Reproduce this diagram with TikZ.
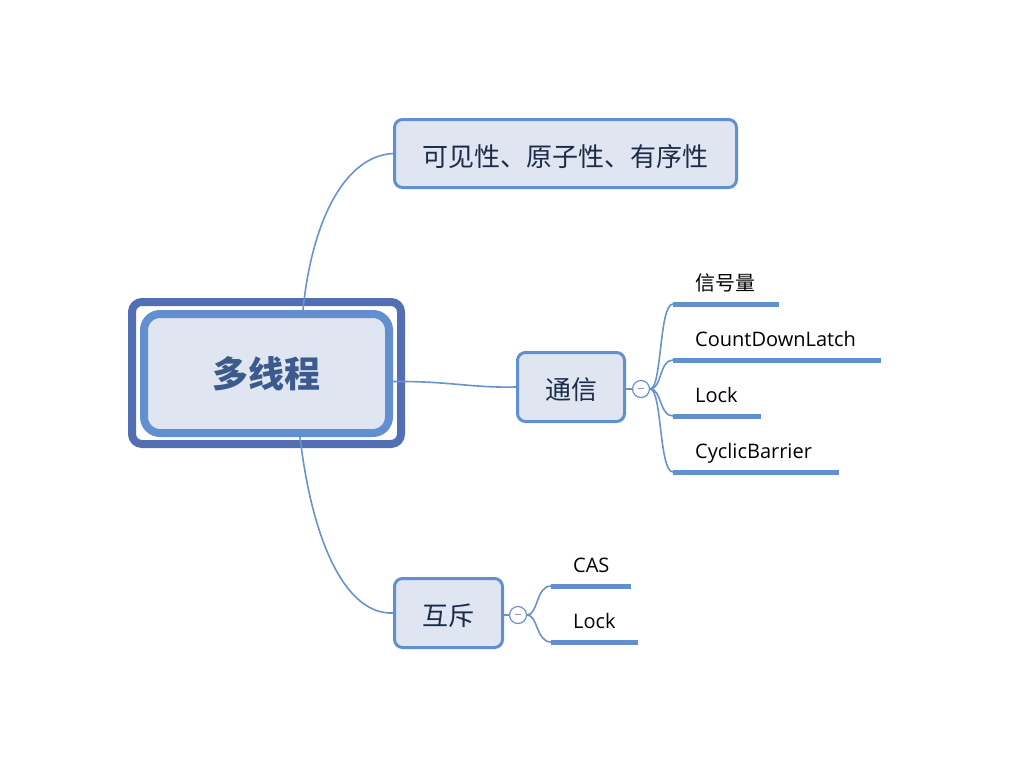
\documentclass[tikz,border=0pt]{standalone}
\usepackage{fontspec}
\setmainfont{Open Sans}
\newfontfamily\cjk{Noto Sans CJK SC}
\definecolor{frame}{RGB}{82,111,180}
\definecolor{edge}{RGB}{97,143,207}
\definecolor{wire}{RGB}{106,146,204}
\definecolor{boxfill}{RGB}{223,230,241}
\definecolor{ink}{RGB}{28,43,72}
\definecolor{title}{RGB}{60,90,140}
\definecolor{minus}{RGB}{140,130,170}

\begin{document}
\begin{tikzpicture}[x=1pt,y=-1pt,
  box/.style={draw=edge,fill=boxfill,rounded corners=8pt,line width=3pt,text=ink,text height=25pt,text depth=0pt,font=\cjk\fontsize{26}{26}\selectfont},
  conn/.style={draw=wire,line width=1.6pt},
  bar/.style={draw=edge,line width=5pt},
  sub/.style={anchor=base west,inner sep=0pt,font=\fontsize{20}{20}\selectfont},
  fold/.style={draw=wire,circle,fill=white,line width=1.2pt,minimum size=17pt,inner sep=0pt,text=minus,text height=8pt,text depth=0pt,font=\fontsize{13}{13}\selectfont}]
\useasboundingbox (0,0) rectangle (1014,766);
% central topic
\node[draw=frame,line width=8pt,rounded corners=10pt,minimum width=269pt,minimum height=142pt] (m0) at (266.5,373) {};
\node[box,line width=8pt,rounded corners=16pt,minimum width=245pt,minimum height=119pt,text height=28pt,font=\cjk\bfseries\fontsize{36}{36}\selectfont,text=title] (m) at (266.5,373.5) {多线程};
% main branches
\node[box,minimum width=342pt,minimum height=68pt] (a) at (565.5,153.5) {可见性、原子性、有序性};
\node[box,minimum width=107pt,minimum height=69pt] (b) at (571,387) {通信};
\node[box,minimum width=108pt,minimum height=69pt] (c) at (448.5,613) {互斥};
\node[fold] (b0) at (641,389) {−};
\node[fold] (c0) at (518,615) {−};
\draw[conn] ([xshift=36.5pt]m.north) .. controls (312,220) and (345,156) .. (a.west);
\draw[conn] ([yshift=-8pt]m.east) .. controls (450,381) and (470,388) .. (b.west);
\draw[conn] ([xshift=33.5pt]m.south) .. controls (312,540) and (345,615) .. (c.west);
\draw[conn] (b0.west) -- (b0.west -| b.east);
\draw[conn] (c0.west) -- (c0.west -| c.east);
% sub topics
\foreach \t/\y/\l [count=\i] in {{\cjk 信号量}/304/106,CountDownLatch/360/208,Lock/416/88,CyclicBarrier/472/166} {
  \coordinate (s\i) at (673,\y);
  \draw[conn] (b0.east) .. controls (662,389) and (659,\y) .. (s\i);
  \draw[bar] (s\i) -- ++(\l,0);
  \node[sub] (t\i) at (695,\y-14) {\t};
}
\foreach \t/\y/\l [count=\i] in {CAS/586/80,Lock/642/87} {
  \coordinate (r\i) at (551,\y);
  \draw[conn] (c0.east) .. controls (538,615) and (536,\y) .. (r\i);
  \draw[bar] (r\i) -- ++(\l,0);
  \node[sub] (u\i) at (573,\y-14) {\t};
}
\end{tikzpicture}
\end{document}
